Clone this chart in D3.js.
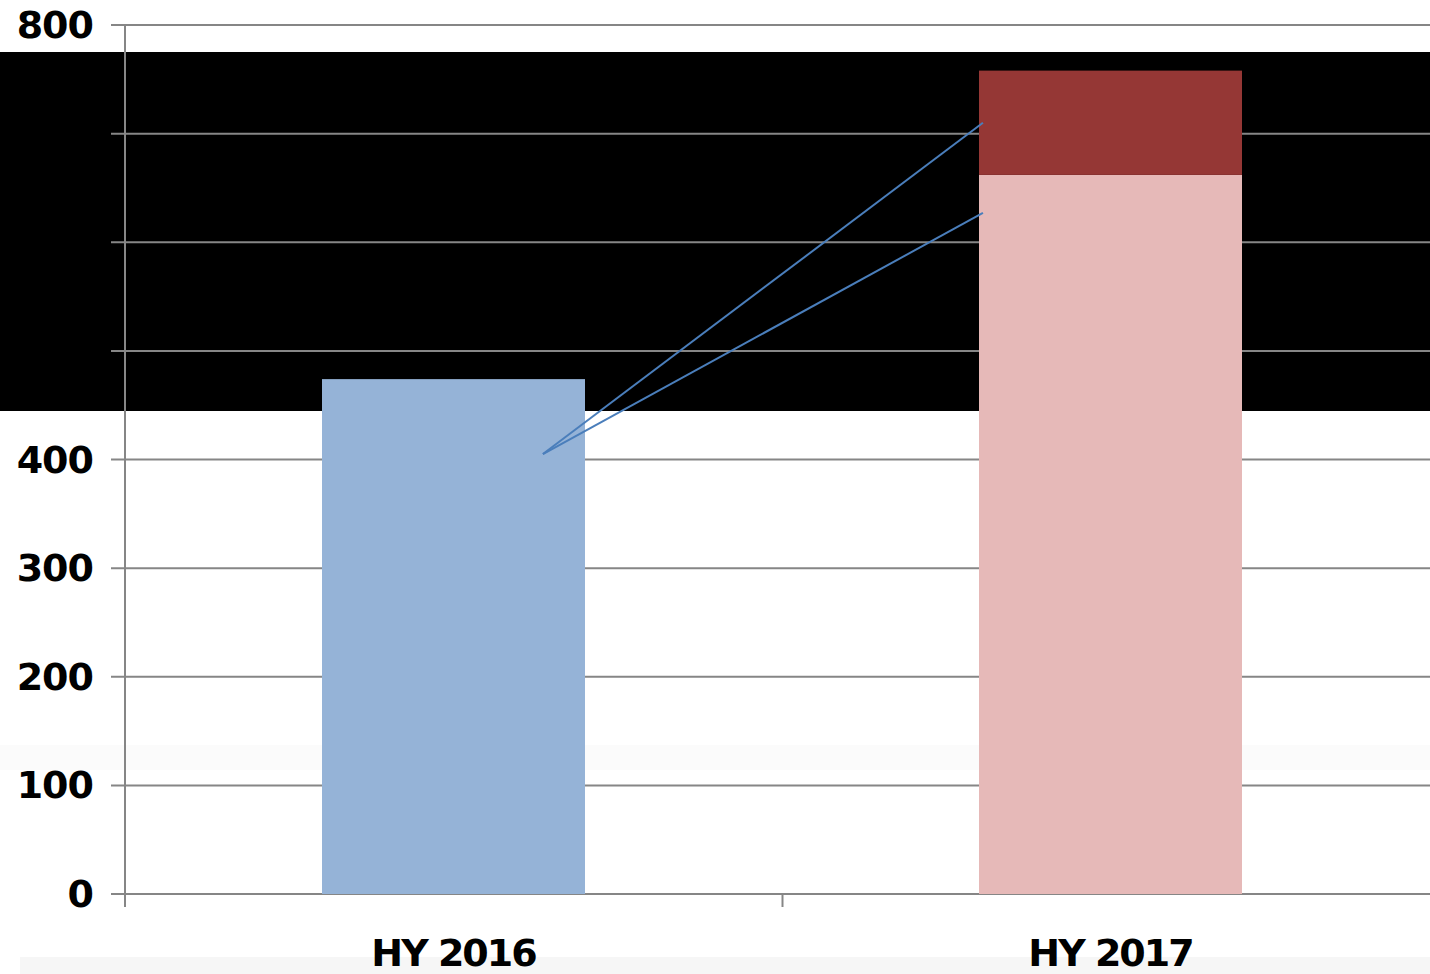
<!DOCTYPE html>
<html><head><meta charset="utf-8">
<script src="https://cdn.jsdelivr.net/npm/d3@7/dist/d3.min.js"></script>
<style>
html,body{margin:0;padding:0;background:#fff;overflow:hidden}
svg{display:block}
text{font-family:"DejaVu Sans",sans-serif;font-weight:bold;fill:#000}
</style></head><body>
<svg id="c" width="1430" height="974"></svg>
<script>
const categories = ["HY 2016", "HY 2017"];
const baseValues = [474, 662];
const topValues = [0, 96];
const yTicks = [0, 100, 200, 300, 400, 500, 600, 700, 800];
const connectorStart = 405;
const connectorEnds = [710, 627];

const W = 1430, H = 974;
const svg = d3.select("#c");
const y = d3.scaleLinear().domain([0, 800]).range([894, 25]);
const x = d3.scalePoint().domain(categories).range([453.5, 1110.5]);
const bw = 263;
const cx = c => x(c);

// faint background band
svg.append("rect").attr("x", 20).attr("y", 957).attr("width", W - 20).attr("height", 17).attr("fill", "#f6f6f6");
svg.append("rect").attr("x", 0).attr("y", 745).attr("width", W).attr("height", 25).attr("fill", "#fbfbfb");

// black overlay
svg.append("rect").attr("x", 0).attr("y", 52).attr("width", W).attr("height", 359).attr("fill", "#000");

// gridlines
svg.append("g").selectAll("line").data(yTicks).join("line")
  .attr("x1", 111).attr("x2", W)
  .attr("y1", d => y(d)).attr("y2", d => y(d))
  .attr("stroke", "#868686").attr("stroke-width", 2);

// y axis line
svg.append("line").attr("x1", 125).attr("x2", 125).attr("y1", y(800)).attr("y2", 907)
  .attr("stroke", "#868686").attr("stroke-width", 2);
// category separator tick
const midX = (cx(categories[0]) + cx(categories[1])) / 2 + 0.5;
svg.append("line").attr("x1", midX).attr("x2", midX)
  .attr("y1", 894).attr("y2", 907).attr("stroke", "#868686").attr("stroke-width", 2);

// y labels
svg.append("g").selectAll("text").data(yTicks).join("text")
  .attr("x", 93).attr("y", d => y(d) + 13)
  .attr("text-anchor", "end")
  .attr("font-size", 38).attr("letter-spacing", -1)
  .text(d => d);

// bars
const barColors = ["#95b3d7", "#e6b9b8"];
svg.append("g").selectAll("rect").data(categories).join("rect")
  .attr("x", d => cx(d) - bw / 2).attr("width", bw)
  .attr("y", (d, i) => y(baseValues[i]))
  .attr("height", (d, i) => y(0) - y(baseValues[i]))
  .attr("fill", (d, i) => barColors[i]);
svg.append("g").selectAll("rect").data(categories).join("rect")
  .attr("x", d => cx(d) - bw / 2).attr("width", bw)
  .attr("y", (d, i) => y(baseValues[i] + topValues[i]))
  .attr("height", (d, i) => y(baseValues[i]) - y(baseValues[i] + topValues[i]))
  .attr("fill", "#953735");

// connector lines
const sx = cx(categories[0]) + 0.34 * bw;
const ex = cx(categories[1]) - 0.485 * bw;
svg.append("g").selectAll("line").data(connectorEnds).join("line")
  .attr("x1", sx).attr("y1", y(connectorStart))
  .attr("x2", ex).attr("y2", d => y(d))
  .attr("stroke", "#4a7ebb").attr("stroke-width", 2);

// category labels
svg.append("g").selectAll("text").data(categories).join("text")
  .attr("x", d => cx(d)).attr("y", 966)
  .attr("text-anchor", "middle")
  .attr("font-size", 38).attr("letter-spacing", -2)
  .text(d => d);
</script>
</body></html>
